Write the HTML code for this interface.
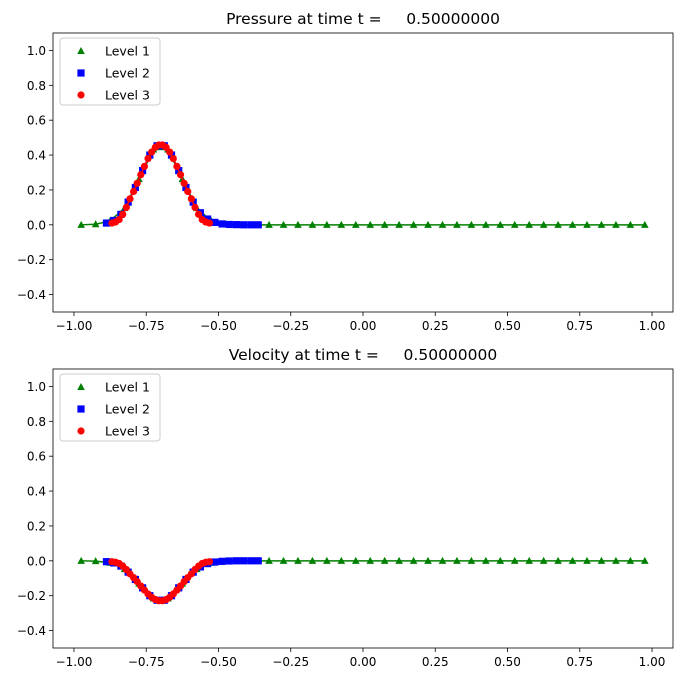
<!DOCTYPE html>
<html><head><meta charset="utf-8"><style>
body{margin:0;background:#fff;}
svg text{font-family:"DejaVu Sans","Liberation Sans",sans-serif;fill:#000;white-space:pre;}
</style></head><body>
<svg id="c" width="683" height="682" xmlns="http://www.w3.org/2000/svg"></svg>
<script>
const xTicks=[-1.00,-0.75,-0.50,-0.25,0.00,0.25,0.50,0.75,1.00];
const yTicks=[-0.4,-0.2,0.0,0.2,0.4,0.6,0.8,1.0];
const l1x=[-0.975,-0.925,-0.875,-0.825,-0.775,-0.725,-0.675,-0.625,-0.575,-0.525,-0.475,-0.425,-0.375,-0.325,-0.275,-0.225,-0.175,-0.125,-0.075,-0.025,0.025,0.075,0.125,0.175,0.225,0.275,0.325,0.375,0.425,0.475,0.525,0.575,0.625,0.675,0.725,0.775,0.825,0.875,0.925,0.975];
const l1p=[0,0.003,0.022,0.096,0.262,0.432,0.432,0.262,0.096,0.022,0.003,0,0,0,0,0,0,0,0,0,0,0,0,0,0,0,0,0,0,0,0,0,0,0,0,0,0,0,0,0];
const l1v=[0,-0.002,-0.011,-0.048,-0.131,-0.216,-0.216,-0.131,-0.048,-0.011,-0.002,0,0,0,0,0,0,0,0,0,0,0,0,0,0,0,0,0,0,0,0,0,0,0,0,0,0,0,0,0];
const l2x=[-0.8875,-0.8625,-0.8375,-0.8125,-0.7875,-0.7625,-0.7375,-0.7125,-0.6875,-0.6625,-0.6375,-0.6125,-0.5875,-0.5625,-0.5375,-0.5125,-0.4875,-0.4625,-0.4375,-0.4125,-0.3875,-0.3625];
const l2p=[0.010,0.025,0.060,0.130,0.214,0.311,0.400,0.453,0.453,0.400,0.311,0.214,0.130,0.069,0.033,0.014,0.005,0.002,0.001,0,0,0];
const l2v=[-0.005,-0.012,-0.030,-0.065,-0.107,-0.155,-0.200,-0.226,-0.226,-0.200,-0.155,-0.107,-0.065,-0.035,-0.016,-0.007,-0.003,-0.001,0,0,0,0];
const l3x=[-0.86875,-0.85625,-0.84375,-0.83125,-0.81875,-0.80625,-0.79375,-0.78125,-0.76875,-0.75625,-0.74375,-0.73125,-0.71875,-0.70625,-0.69375,-0.68125,-0.66875,-0.65625,-0.64375,-0.63125,-0.61875,-0.60625,-0.59375,-0.58125,-0.56875,-0.55625,-0.54375,-0.53125];
const l3p=[0.010,0.016,0.030,0.060,0.100,0.149,0.191,0.238,0.287,0.335,0.380,0.417,0.444,0.458,0.458,0.444,0.417,0.380,0.335,0.287,0.238,0.191,0.149,0.100,0.060,0.030,0.016,0.010];
const l3v=[-0.005,-0.008,-0.015,-0.030,-0.050,-0.075,-0.096,-0.119,-0.144,-0.168,-0.190,-0.209,-0.222,-0.229,-0.229,-0.222,-0.209,-0.190,-0.168,-0.144,-0.119,-0.096,-0.075,-0.050,-0.030,-0.015,-0.008,-0.005];

const svg=document.getElementById('c');
const NS='http://www.w3.org/2000/svg';
function mk(t,a,p){const e=document.createElementNS(NS,t);for(const k in a)e.setAttribute(k,a[k]);(p||svg).appendChild(e);return e;}
const L=53,R=673,XMIN=-1.0725,XMAX=1.0725;
const xs=v=>L+(v-XMIN)/(XMAX-XMIN)*(R-L);
const fmt=(v,d)=>(v<0?'\u2212':'')+Math.abs(v).toFixed(d);
function panel(top,title,name,series){
  const bot=top+279;
  const ys=v=>bot-(v+0.5)/1.6*(bot-top);
  const g=mk('g',{});
  
  
  const t=mk('text',{x:363,y:top-9,'text-anchor':'middle','font-size':15.5},g);
  t.textContent=title;
  
  
  xTicks.forEach(v=>{const x=xs(v);mk('line',{x1:x,x2:x,y1:bot,y2:bot+4,stroke:'#000','stroke-width':0.8},g);
    const tx=mk('text',{x:x,y:bot+18,'text-anchor':'middle','font-size':12},g);tx.textContent=fmt(v,2);
    
    });
  yTicks.forEach(v=>{const y=ys(v);mk('line',{x1:L-4,x2:L,y1:y,y2:y,stroke:'#000','stroke-width':0.8},g);
    const tx=mk('text',{x:L-7,y:y+4.5,'text-anchor':'end','font-size':12},g);tx.textContent=fmt(v,1);
    
    });
  series.forEach(s=>{
    const sg=mk('g',{},g);
    
    
    mk('polyline',{points:s.x.map((v,i)=>xs(v)+','+ys(s.y[i])).join(' '),fill:'none',stroke:s.c,'stroke-width':1.5},sg);
    s.x.forEach((v,i)=>marker(s.m,xs(v),ys(s.y[i]),s.c,sg));
  });
  mk('rect',{x:L,y:top,width:R-L,height:bot-top,fill:'none',stroke:'#000','stroke-width':0.8},g);
  const lg=mk('g',{},g);
  
  
  mk('rect',{x:L+7,y:top+5,width:100,height:67,rx:3,fill:'#fff','fill-opacity':0.8,stroke:'#ccc'},lg);
  series.forEach((s,i)=>{const y=top+18+i*22;marker(s.m,L+28,y,s.c,lg);
    const tx=mk('text',{x:L+52,y:y+4.5,'font-size':12.5},lg);tx.textContent='Level '+(i+1);
    
    });
}
function marker(m,x,y,c,p){
  if(m==='t')mk('polygon',{points:`${x},${y-4} ${x-3.8},${y+3} ${x+3.8},${y+3}`,fill:c},p);
  else if(m==='s')mk('rect',{x:x-3.6,y:y-3.6,width:7.2,height:7.2,fill:c},p);
  else mk('circle',{cx:x,cy:y,r:3.6,fill:c},p);
}
panel(33,'Pressure at time t =     0.50000000','pressure',[
 {name:'level-1-series',x:l1x,y:l1p,c:'#008000',m:'t'},
 {name:'level-2-series',x:l2x,y:l2p,c:'#0000ff',m:'s'},
 {name:'level-3-series',x:l3x,y:l3p,c:'#ff0000',m:'c'}]);
panel(369,'Velocity at time t =     0.50000000','velocity',[
 {name:'level-1-series',x:l1x,y:l1v,c:'#008000',m:'t'},
 {name:'level-2-series',x:l2x,y:l2v,c:'#0000ff',m:'s'},
 {name:'level-3-series',x:l3x,y:l3v,c:'#ff0000',m:'c'}]);
</script>
</body></html>
